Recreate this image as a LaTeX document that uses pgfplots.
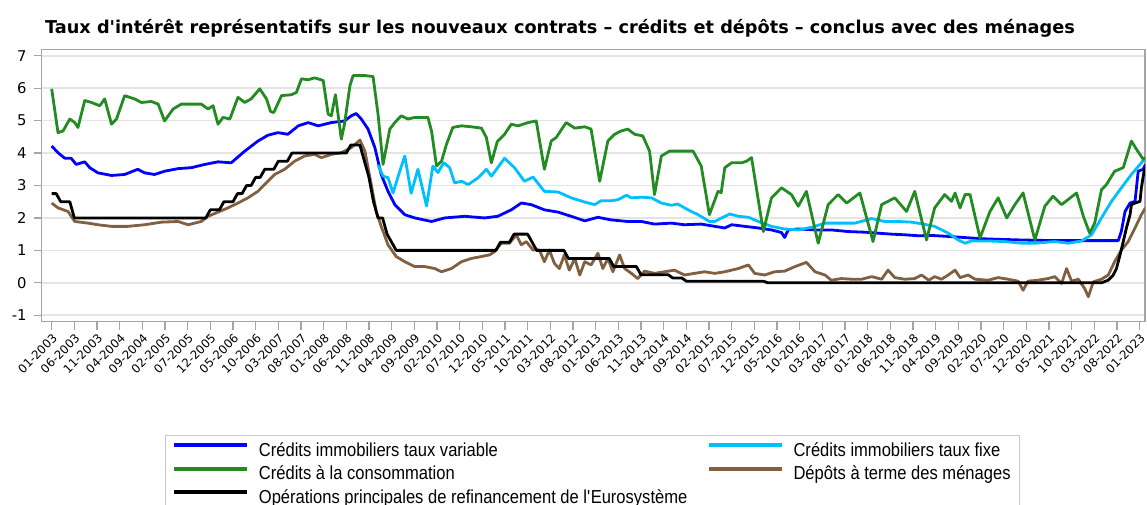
\documentclass[border=0pt]{standalone}
\usepackage{fontspec}
\setmainfont{DejaVu Sans}
\newfontfamily\legfont[FakeStretch=0.88]{Liberation Sans}
\usepackage{pgfplots}
\pgfplotsset{compat=1.18}
\definecolor{cBlue}{RGB}{0,0,255}
\definecolor{cLight}{RGB}{0,191,255}
\definecolor{cGreen}{RGB}{34,139,34}
\definecolor{cBrown}{RGB}{128,96,64}
\definecolor{cGrid}{RGB}{228,228,228}
\definecolor{cFrame}{RGB}{165,165,165}
\definecolor{cLeg}{RGB}{200,200,200}
\begin{document}
\begin{tikzpicture}
\begin{axis}[name=main, scale only axis, width=551.65pt, height=136.2pt,
  xmin=-2.2, xmax=241.2, ymin=-1.2, ymax=7.2,
  axis line style={cFrame, line width=0.75pt},
  ytick={-1,0,1,2,3,4,5,6,7}, yticklabels={-1,0,1,2,3,4,5,6,7},
  ymajorgrids, grid style={cGrid, line width=0.75pt},
  xtick={0,5,...,240},
  xticklabels={01-2003,06-2003,11-2003,04-2004,09-2004,02-2005,07-2005,12-2005,05-2006,10-2006,03-2007,08-2007,01-2008,06-2008,11-2008,04-2009,09-2009,02-2010,07-2010,12-2010,05-2011,10-2011,03-2012,08-2012,01-2013,06-2013,11-2013,04-2014,09-2014,02-2015,07-2015,12-2015,05-2016,10-2016,03-2017,08-2017,01-2018,06-2018,11-2018,04-2019,09-2019,02-2020,07-2020,12-2020,05-2021,10-2021,03-2022,08-2022,01-2023},
  tick align=outside, major tick length=4pt,
  tick style={cFrame, line width=0.6pt},
  xtick pos=bottom, ytick pos=left,
  yticklabel style={font=\fontsize{7.4}{8}\selectfont, text=black},
  xticklabel style={font=\fontsize{5.9}{6}\selectfont, rotate=45, anchor=north east, inner sep=1pt, text=black},
  clip=true,
  every axis plot/.append style={line width=1.4pt, line join=round, no markers},
  legend columns=2,
  legend image code/.code={\draw[#1, line width=2pt] (0pt,3.2pt) -- (36.5pt,3.2pt);},
  legend style={at={(0.1115,-0.4145)}, anchor=north west, draw=cLeg, line width=0.6pt,
    font=\legfont\fontsize{9.4}{10}\selectfont,
    inner xsep=3.5pt, inner ysep=2.7pt, row sep=1.25pt,
    nodes={inner sep=0.8pt, text height=7pt, text depth=2pt},
    cells={anchor=west},
    /tikz/every odd column/.append style={column sep=4pt},
    /tikz/every even column/.append style={column sep=9pt}},
]
\addplot[cBlue] coordinates {(0,4.22) (1.4,4.01) (2.9,3.84) (4.3,3.84) (5.4,3.65) (7.3,3.73) (8.4,3.55) (10.2,3.39) (13.2,3.31) (16.1,3.34) (19,3.50) (20.5,3.39) (22.7,3.34) (24.9,3.44) (27.9,3.52) (30.8,3.55) (33.8,3.65) (36.7,3.73) (39.6,3.70) (42.6,4.06) (45.5,4.37) (47.7,4.55) (49.9,4.63) (52.1,4.58) (54.4,4.84) (56.6,4.94) (58.8,4.84) (61.7,4.94) (64.6,4.99) (66.1,5.15) (67.2,5.22) (68.3,5.05) (69.8,4.74) (71.3,4.17) (72.7,3.34) (74.2,2.82) (75.7,2.41) (77.9,2.10) (80.1,2.0) (83.8,1.89) (86.7,2.0) (91.1,2.05) (95.5,2.0) (98.4,2.05) (101.4,2.25) (103.6,2.46) (105.8,2.41) (108.7,2.25) (111.7,2.18) (114.6,2.05) (117.6,1.91) (120.5,2.02) (123.4,1.94) (127.1,1.89) (130.1,1.89) (133,1.81) (136.7,1.84) (139.6,1.79) (143.3,1.81) (146.3,1.74) (148.5,1.69) (150,1.79) (152.9,1.74) (155.9,1.69) (158.8,1.63) (161,1.55) (161.7,1.40) (162.5,1.63) (164.7,1.66) (168.4,1.63) (172,1.63) (175.7,1.58) (179.4,1.56) (182.3,1.53) (185.3,1.50) (188.2,1.48) (191.2,1.45) (194.1,1.46) (197.8,1.43) (202.9,1.38) (206.6,1.35) (214,1.32) (221.3,1.30) (228.7,1.30) (235.3,1.30) (236,1.6) (236.8,2.2) (237.9,2.46) (239,2.51) (239.7,3.44) (240.8,3.50) (241.3,3.65)};
\addlegendentry{Crédits immobiliers taux variable}
\addplot[cLight] coordinates {(72,3.63) (73.1,3.29) (74.2,3.24) (75.3,2.77) (76.8,3.44) (77.9,3.91) (79.3,2.76) (80.8,3.5) (82.7,2.37) (84.1,3.6) (85.2,3.4) (86.5,3.7) (87.8,3.55) (88.9,3.08) (90.4,3.13) (91.9,3.03) (94.1,3.24) (95.9,3.50) (97,3.29) (98.4,3.55) (99.9,3.84) (102.1,3.55) (104.3,3.13) (106.2,3.26) (108.7,2.82) (111.7,2.80) (114.6,2.62) (117.6,2.49) (119.8,2.41) (121.2,2.53) (123.4,2.53) (124.9,2.56) (126.8,2.70) (127.9,2.62) (130.1,2.64) (132.3,2.62) (134.5,2.46) (136.7,2.39) (138.1,2.43) (140.4,2.25) (142.6,2.10) (145.1,1.89) (146.3,1.89) (147.8,2.0) (149.6,2.12) (151.5,2.05) (153.7,2.02) (155.9,1.89) (158.8,1.74) (161.7,1.66) (164.7,1.63) (167.6,1.71) (170.6,1.84) (173.5,1.84) (177.2,1.84) (180.9,1.98) (183.8,1.89) (186.7,1.89) (189.7,1.87) (191.9,1.82) (194.8,1.74) (197.8,1.53) (200,1.32) (201.5,1.22) (202.9,1.29) (206.6,1.29) (210.3,1.27) (214,1.22) (216.9,1.22) (221.3,1.27) (224.3,1.22) (227.2,1.29) (229.4,1.48) (231.6,2.0) (233.8,2.51) (236,2.93) (238.2,3.34) (240.4,3.70) (241.3,3.86)};
\addlegendentry{Crédits immobiliers taux fixe}
\addplot[cGreen] coordinates {(0,5.98) (1.4,4.63) (2.5,4.68) (4,5.05) (5.1,4.94) (5.8,4.79) (7.3,5.62) (8.8,5.56) (10.6,5.46) (11.7,5.67) (13.2,4.89) (14.3,5.05) (16.1,5.77) (18.3,5.67) (19.8,5.56) (22,5.59) (23.5,5.51) (24.9,4.99) (26.8,5.36) (28.6,5.51) (30.8,5.51) (33,5.51) (34.5,5.36) (35.6,5.46) (36.7,4.89) (37.8,5.10) (39.3,5.05) (41.1,5.72) (42.6,5.56) (44,5.67) (45.9,5.98) (47.4,5.67) (48.3,5.28) (49,5.25) (50.7,5.77) (52.9,5.8) (54,5.87) (55.1,6.29) (56.6,6.26) (58,6.32) (59.9,6.24) (61,5.20) (61.7,5.15) (62.6,5.8) (63.9,4.43) (64.6,4.89) (65.8,6.08) (66.5,6.39) (69.1,6.39) (70.9,6.36) (72,5.20) (73.1,3.65) (74.6,4.74) (75.7,4.94) (77.1,5.15) (78.6,5.05) (80.1,5.10) (81.6,5.10) (83,5.10) (83.8,4.68) (84.9,3.60) (86,3.75) (87.1,4.27) (88.5,4.79) (90.4,4.84) (92.6,4.81) (94.8,4.77) (95.9,4.48) (97,3.70) (98.3,4.35) (99.9,4.58) (101.4,4.89) (102.9,4.84) (105.1,4.94) (106.9,4.99) (108.7,3.50) (110.2,4.37) (111.3,4.48) (113.5,4.94) (115.4,4.77) (117.6,4.81) (119,4.74) (120.9,3.13) (122.7,4.37) (124.2,4.58) (125.6,4.68) (127.1,4.74) (128.6,4.58) (130.4,4.53) (131.9,4.06) (133,2.72) (134.5,3.91) (136.3,4.06) (137.8,4.06) (139.6,4.06) (141.5,4.06) (143.3,3.60) (145.1,2.10) (147,2.82) (147.7,2.78) (148.5,3.55) (150,3.70) (152.2,3.70) (153.3,3.75) (154.4,3.86) (157,1.58) (158.8,2.62) (161,2.93) (163.2,2.72) (164.7,2.36) (166.5,2.82) (169.1,1.22) (171.3,2.41) (173.5,2.72) (175.4,2.46) (178.3,2.77) (181.2,1.27) (183.1,2.41) (186,2.62) (188.6,2.20) (190.4,2.82) (193,1.32) (194.8,2.31) (197,2.72) (198.5,2.51) (199.3,2.77) (200.4,2.31) (201.5,2.72) (202.6,2.72) (204.8,1.38) (207,2.20) (208.8,2.62) (210.7,2.0) (212.5,2.41) (214.3,2.77) (216.9,1.32) (219.1,2.36) (220.9,2.67) (222.8,2.41) (226.1,2.77) (227.6,2.05) (229,1.53) (230.1,1.84) (231.6,2.87) (232.7,3.03) (234.5,3.44) (236.4,3.55) (238.2,4.37) (239.3,4.12) (240.8,3.81) (241.3,3.86)};
\addlegendentry{Crédits à la consommation}
\addplot[cBrown] coordinates {(0,2.46) (1.4,2.31) (3.6,2.20) (5.1,1.89) (8,1.84) (10.2,1.79) (13.2,1.74) (16.8,1.74) (20.5,1.79) (24.2,1.87) (27.9,1.89) (30.1,1.79) (33,1.89) (34.5,2.05) (36.7,2.18) (38.9,2.31) (41.1,2.46) (43.3,2.62) (45.5,2.82) (48.1,3.19) (49.2,3.34) (51.4,3.50) (53.6,3.75) (55.8,3.91) (58,3.96) (59.5,3.86) (61.7,3.96) (63.9,4.01) (66.1,4.17) (68,4.40) (69.1,4.06) (70.5,3.03) (71.6,2.2) (72.7,1.74) (74.2,1.17) (76,0.81) (77.9,0.65) (80.1,0.50) (82.3,0.5) (84.5,0.44) (86,0.34) (88.2,0.44) (90.4,0.65) (92.6,0.75) (94.8,0.81) (96.6,0.86) (97.7,0.96) (99.2,1.22) (101,1.22) (102.5,1.48) (103.6,1.17) (104.7,1.27) (106.2,1.01) (107.6,1.01) (108.7,0.65) (109.8,1.01) (110.9,0.60) (112,0.44) (113.1,0.86) (114.2,0.39) (115.4,0.75) (116.5,0.24) (117.6,0.65) (119,0.55) (120.5,0.91) (121.6,0.44) (122.7,0.75) (123.8,0.34) (125.3,0.86) (126.4,0.44) (127.9,0.29) (129.3,0.13) (130.8,0.36) (133,0.29) (135.2,0.34) (137.4,0.39) (139.6,0.24) (141.8,0.29) (144,0.34) (146.3,0.29) (148.5,0.34) (151.5,0.44) (153.7,0.55) (155.1,0.29) (157.3,0.24) (159.5,0.34) (161.7,0.36) (164,0.5) (166.5,0.63) (168.4,0.34) (170.6,0.24) (172,0.08) (174.2,0.13) (176.5,0.11) (178.7,0.11) (180.9,0.19) (183.1,0.11) (184.5,0.39) (186,0.16) (188.2,0.11) (190.4,0.13) (191.9,0.24) (193.5,0.08) (194.8,0.19) (196.3,0.11) (197.8,0.24) (199.3,0.39) (200.4,0.16) (202.2,0.24) (203.7,0.11) (206.6,0.08) (208.8,0.16) (211,0.11) (213.2,0.05) (214.3,-0.23) (215.4,0.05) (217.6,0.08) (219.8,0.13) (221.3,0.19) (222.8,-0.02) (223.9,0.44) (225,0.05) (226.5,0.11) (227.9,-0.18) (228.7,-0.43) (229.8,0.03) (231.6,0.11) (233.1,0.24) (234.5,0.65) (236,1.01) (237.5,1.27) (239,1.69) (240.4,2.10) (241.3,2.31)};
\addlegendentry{Dépôts à terme des ménages}
\addplot[black] coordinates {(0,2.75) (1,2.75) (2,2.5) (4,2.5) (5,2.0) (34,2.0) (35,2.25) (37,2.25) (38,2.5) (40,2.5) (41,2.75) (42,2.75) (43,3.0) (44,3.0) (45,3.25) (46,3.25) (47,3.5) (49,3.5) (50,3.75) (52,3.75) (53,4.0) (65,4.0) (66,4.25) (68,4.25) (69,3.75) (70,3.25) (71,2.5) (72,2.0) (73,2.0) (74,1.5) (75,1.25) (76,1.0) (98,1.0) (99,1.25) (101,1.25) (102,1.5) (105,1.5) (106,1.25) (107,1.0) (113,1.0) (114,0.75) (123,0.75) (124,0.5) (129,0.5) (130,0.25) (136,0.25) (137,0.15) (139,0.15) (140,0.05) (157,0.05) (158,0.0) (231.6,0) (233.1,0.08) (234.2,0.24) (234.9,0.44) (235.7,0.86) (236.4,1.27) (237.1,1.69) (237.9,2.1) (238.2,2.41) (239,2.46) (240.1,2.51) (240.4,2.93) (241,3.44) (241.3,3.55)};
\addlegendentry{Opérations principales de refinancement de l\textquotesingle Eurosystème}
\end{axis}
\node[anchor=west, xshift=1.5pt, yshift=10.5pt, inner sep=0pt, font=\bfseries\fontsize{8.85}{10}\selectfont] at (main.north west) {Taux d\textquotesingle intérêt représentatifs sur les nouveaux contrats – crédits et dépôts – conclus avec des ménages};
\pgfresetboundingbox
\path (main.south west) ++(-20.85pt,-91.15pt) rectangle ++(573.5pt,252pt);
\end{tikzpicture}
\end{document}
